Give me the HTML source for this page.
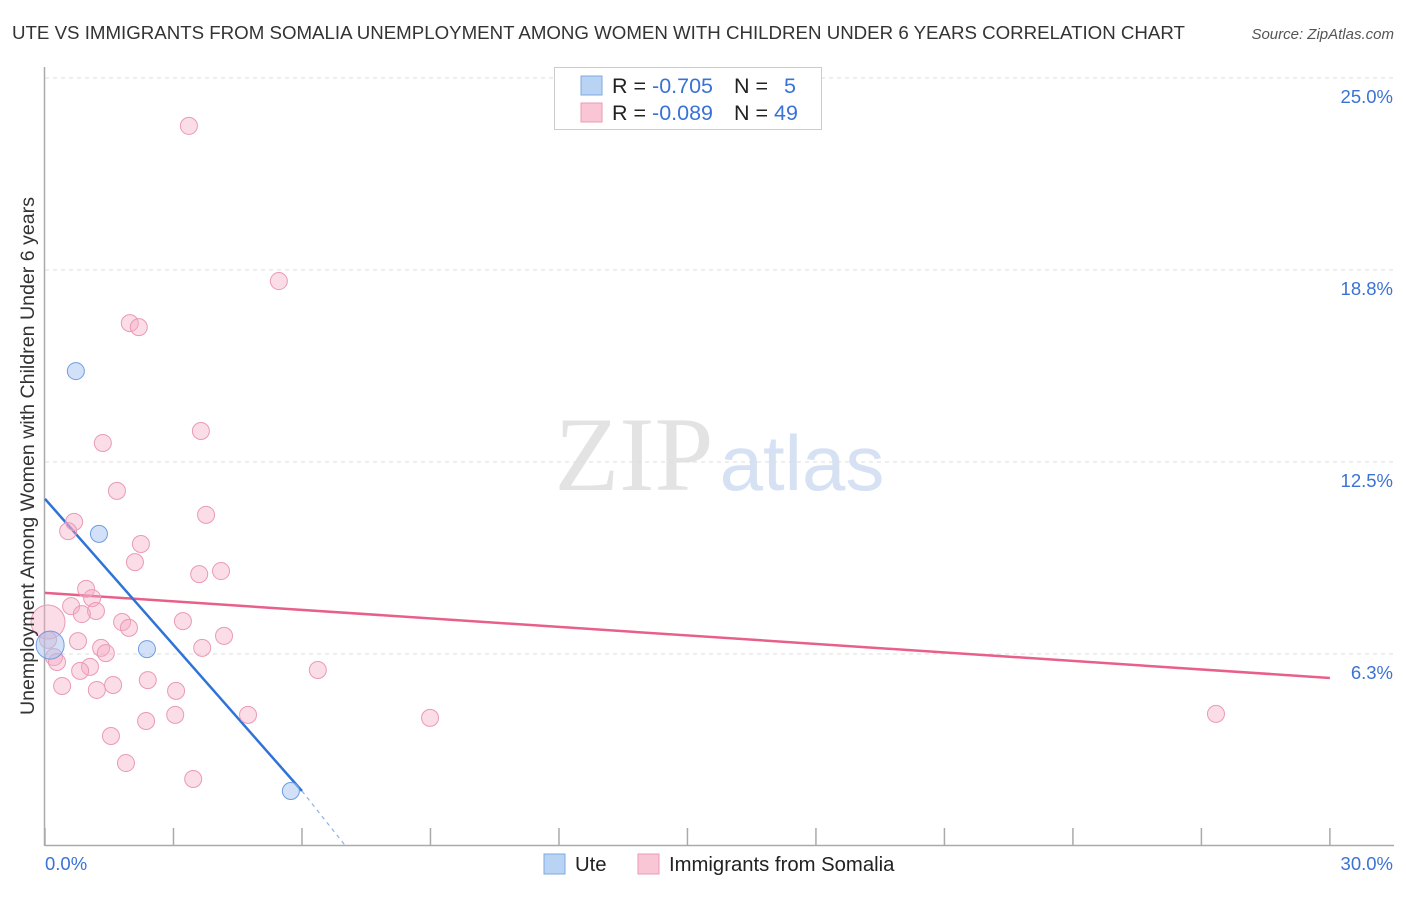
<!DOCTYPE html>
<html><head><meta charset="utf-8"><style>
body{margin:0;background:#fff;font-family:"Liberation Sans",sans-serif;}
</style></head><body>
<svg id="chart" width="1406" height="892" xmlns="http://www.w3.org/2000/svg">
<text x="12" y="39" font-size="18.7" fill="#333">UTE VS IMMIGRANTS FROM SOMALIA UNEMPLOYMENT AMONG WOMEN WITH CHILDREN UNDER 6 YEARS CORRELATION CHART</text>
<text x="1394" y="39" font-size="15" fill="#555" font-style="italic" text-anchor="end">Source: ZipAtlas.com</text>
<g>
<text x="634" y="490" font-size="106" fill="#d8d8d8" font-family="Liberation Serif,serif" text-anchor="middle" opacity="0.7">ZIP</text>
<text x="802" y="490" font-size="78" fill="#c5d6ee" text-anchor="middle" opacity="0.7">atlas</text>
</g>
<g id="grid"></g>
<g id="axes"></g>
<g id="trends"></g>
<g id="points"></g>
<g>
<rect x="554.5" y="67.5" width="267" height="62" fill="#fff" stroke="#ccc"/>
<rect x="581" y="76" width="21" height="19" fill="#b9d3f5" stroke="#7fa8e0"/>
<rect x="581" y="103" width="21" height="19" fill="#f9c6d5" stroke="#ec9ab3"/>
<text x="612" y="93" font-size="21.5" fill="#222">R = <tspan fill="#3b72d6">-0.705</tspan></text>
<text x="734" y="93" font-size="21.5" fill="#222">N = <tspan fill="#3b72d6" x="784">5</tspan></text>
<text x="612" y="120" font-size="21.5" fill="#222">R = <tspan fill="#3b72d6">-0.089</tspan></text>
<text x="734" y="120" font-size="21.5" fill="#222">N = <tspan fill="#3b72d6">49</tspan></text>
</g>
<g>
<rect x="544" y="854" width="21" height="20" fill="#b9d3f5" stroke="#7fa8e0"/>
<text x="575" y="871" font-size="20.3" fill="#222">Ute</text>
<rect x="638" y="854" width="21" height="20" fill="#f9c6d5" stroke="#ec9ab3"/>
<text x="669" y="871" font-size="20.3" fill="#222">Immigrants from Somalia</text>
</g>
<text transform="translate(34,456) rotate(-90)" font-size="19.6" fill="#333" text-anchor="middle">Unemployment Among Women with Children Under 6 years</text>
</svg>
<script>
const yTicks=[6.25,12.5,18.75,25];
const yTickLabels=["6.3%","12.5%","18.8%","25.0%"];
const xTickVals=[0,3,6,9,12,15,18,21,24,27,30];
const uteX=[0.72,1.26,2.38,5.74,0.12];
const uteY=[15.46,10.16,6.41,1.79,6.54];
const uteR=[8.5,8.5,8.5,8.5,14];
const somX=[3.36,5.46,1.98,2.19,1.35,3.64,1.68,3.76,0.68,0.54,2.24,2.10,3.60,4.11,0.96,0.61,1.10,1.19,0.86,1.80,1.96,3.22,0.07,4.18,0.77,1.31,1.42,3.67,0.21,0.28,1.05,0.82,6.37,2.40,0.40,1.59,1.21,3.06,4.74,3.04,2.36,8.99,27.34,1.54,1.89,3.46,0.07];
const somY=[23.44,18.39,17.02,16.89,13.12,13.51,11.56,10.78,10.55,10.25,9.83,9.24,8.85,8.95,8.37,7.81,8.07,7.65,7.55,7.29,7.10,7.32,7.29,6.84,6.67,6.45,6.28,6.45,6.15,5.99,5.83,5.70,5.73,5.40,5.21,5.24,5.08,5.05,4.27,4.27,4.07,4.17,4.30,3.58,2.70,2.18,6.71];
const somR=[8.5,8.5,8.5,8.5,8.5,8.5,8.5,8.5,8.5,8.5,8.5,8.5,8.5,8.5,8.5,8.5,8.5,8.5,8.5,8.5,8.5,8.5,17,8.5,8.5,8.5,8.5,8.5,8.5,8.5,8.5,8.5,8.5,8.5,8.5,8.5,8.5,8.5,8.5,8.5,8.5,8.5,8.5,8.5,8.5,8.5,8.5];
const uteTrendX=[0,6.0,7.0];
const uteTrendY=[11.30,1.79,0.03];
const somTrendX=[0,30];
const somTrendY=[8.24,5.47];
const NS="http://www.w3.org/2000/svg";
const xs=v=>45+v*42.83;
const ys=v=>846-v*30.72;
function mk(tag,attrs,parent){const e=document.createElementNS(NS,tag);for(const k in attrs)e.setAttribute(k,attrs[k]);parent.appendChild(e);return e;}
const grid=document.getElementById('grid'),axes=document.getElementById('axes'),tr=document.getElementById('trends'),pts=document.getElementById('points');
yTicks.forEach((t,i)=>{
 const l=mk('line',{x1:45,x2:1394,y1:ys(t),y2:ys(t),stroke:'#ddd','stroke-dasharray':'4,4'},grid);
 
 
 const tx=mk('text',{x:1393,y:ys(t)+25,'font-size':18.5,fill:'#3b72d6','text-anchor':'end'},axes);
 tx.textContent=yTickLabels[i];
 
 
});
const ya=mk('line',{x1:44.5,x2:44.5,y1:67,y2:846,stroke:'#aaa','stroke-width':1.5},axes);


const xa=mk('line',{x1:45,x2:1394,y1:845.5,y2:845.5,stroke:'#aaa','stroke-width':1.5},axes);


xTickVals.forEach(v=>{
 const t=mk('line',{x1:xs(v),x2:xs(v),y1:828,y2:846,stroke:'#aaa','stroke-width':1.5},axes);
 
 
});
const xl0=mk('text',{x:45,y:870,'font-size':18.5,fill:'#3b72d6'},axes);xl0.textContent='0.0%';


const xl1=mk('text',{x:1393,y:870,'font-size':18.5,fill:'#3b72d6','text-anchor':'end'},axes);xl1.textContent='30.0%';


somX.forEach((x,i)=>{
 const c=mk('circle',{cx:xs(x),cy:ys(somY[i]),r:somR[i],fill:'rgba(245,170,195,0.4)',stroke:'#eb9ab4','stroke-width':1},pts);
 
 
});
uteX.forEach((x,i)=>{
 const c=mk('circle',{cx:xs(x),cy:ys(uteY[i]),r:uteR[i],fill:'rgba(165,196,240,0.5)',stroke:'#6f9de0','stroke-width':1},pts);
 
 
});
const st=mk('line',{x1:xs(somTrendX[0]),y1:ys(somTrendY[0]),x2:xs(somTrendX[1]),y2:ys(somTrendY[1]),stroke:'#e8608a','stroke-width':2.5},tr);


const ut=mk('line',{x1:xs(uteTrendX[0]),y1:ys(uteTrendY[0]),x2:xs(uteTrendX[1]),y2:ys(uteTrendY[1]),stroke:'#2f72d8','stroke-width':2.5},tr);


const ud=mk('line',{x1:xs(uteTrendX[1]),y1:ys(uteTrendY[1]),x2:xs(uteTrendX[2]),y2:ys(uteTrendY[2]),stroke:'#8fb2e8','stroke-width':1.2,'stroke-dasharray':'4,4'},tr);


</script>
</body></html>
